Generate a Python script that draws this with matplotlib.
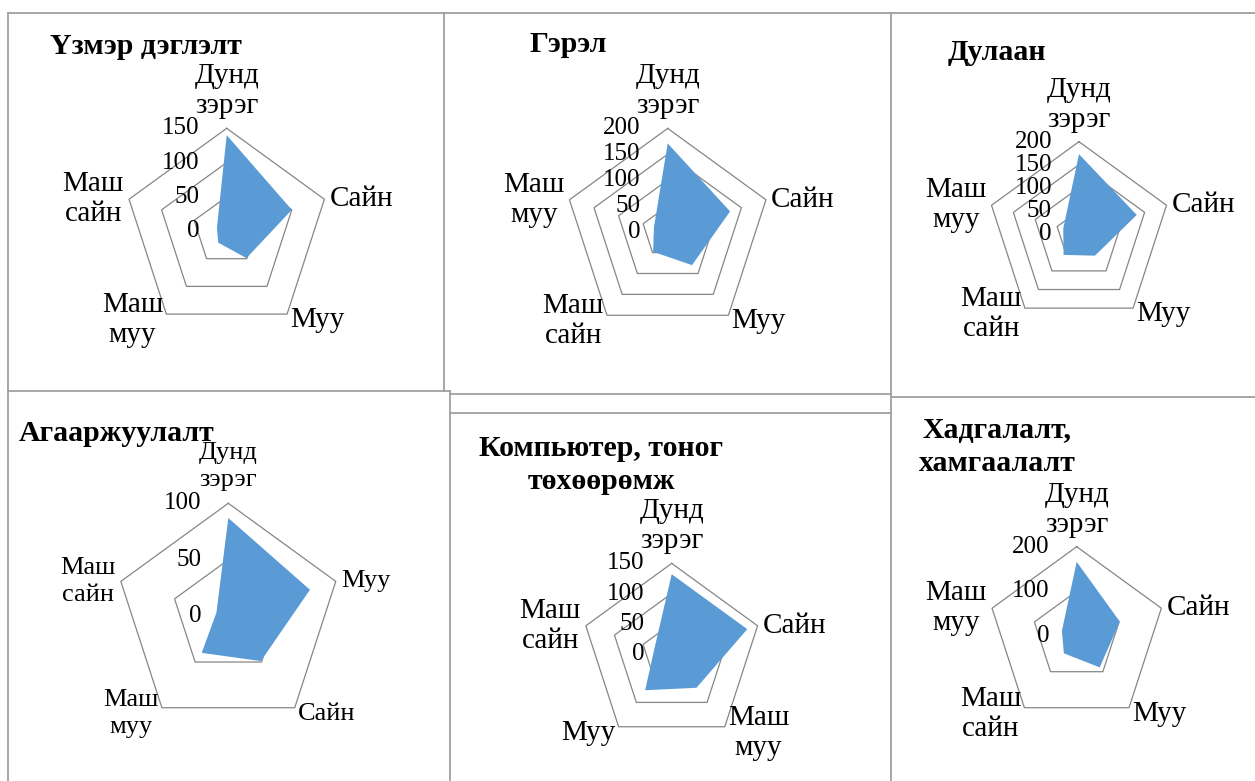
import numpy as np
import matplotlib
matplotlib.use('Agg')
import matplotlib.pyplot as plt
from matplotlib.lines import Line2D
from matplotlib.transforms import offset_copy

plt.rcParams['font.family'] = ['Liberation Serif', 'DejaVu Serif']

# ---- data ----
titles = ['Үзмэр дэглэлт', 'Гэрэл', 'Дулаан', 'Агааржуулалт',
          'Компьютер, тоног\nтөхөөрөмж', 'Хадгалалт,\nхамгаалалт']

cats1 = ['Дунд\nзэрэг', 'Сайн', 'Муу', 'Маш\nмуу', 'Маш\nсайн']
vals1 = [140, 100, 49, 21, 15]
cats2 = ['Дунд\nзэрэг', 'Сайн', 'Муу', 'Маш\nсайн', 'Маш\nмуу']
vals2 = [171, 127, 80, 48, 28]
cats3 = ['Дунд\nзэрэг', 'Сайн', 'Муу', 'Маш\nсайн', 'Маш\nмуу']
vals3 = [173, 132, 59, 57, 36]
cats4 = ['Дунд\nзэрэг', 'Муу', 'Сайн', 'Маш\nмуу', 'Маш\nсайн']
vals4 = [87, 76, 49, 40, 11]
cats5 = ['Дунд\nзэрэг', 'Сайн', 'Маш\nмуу', 'Муу', 'Маш\nсайн']
vals5 = [132, 132, 70, 75, 30]
cats6 = ['Дунд\nзэрэг', 'Сайн', 'Муу', 'Маш\nсайн', 'Маш\nмуу']
vals6 = [166, 102, 88, 49, 35]

ticks1 = [0, 50, 100, 150]
ticks2 = [0, 50, 100, 150, 200]
ticks3 = [0, 50, 100, 150, 200]
ticks4 = [0, 50, 100]
ticks5 = [0, 50, 100, 150]
ticks6 = [0, 100, 200]

# ---- layout (pixels) ----
W, H = 1255, 781
# centre x, centre y, radius, label font size, label line spacing, title x, title y, title ha
layout = [
    (226.7, 231.0, 102.7, 21, 1.2, 50, 47, 'left'),
    (667.7, 231.7, 103.3, 21, 1.2, 530, 45, 'left'),
    (1079.0, 233.7, 92.0, 21, 1.2, 948, 53, 'left'),
    (228.3, 616.3, 113.0, 19, 1.32, 19, 433, 'left'),
    (671.7, 653.7, 90.3, 21, 1.2, 601, 465, 'center'),
    (1076.7, 635.7, 89.0, 21, 1.2, 997, 447, 'center'),
]

panels = [(cats1, vals1, ticks1), (cats2, vals2, ticks2), (cats3, vals3, ticks3),
          (cats4, vals4, ticks4), (cats5, vals5, ticks5), (cats6, vals6, ticks6)]

fig = plt.figure(figsize=(W / 100, H / 100), dpi=100)
fig.patch.set_facecolor('white')

# panel borders
border = '#a0a0a0'
segs = [
    ((8, 12.5), (1255, 12.5)),
    ((8, 12.5), (8, 781)),
    ((443.5, 12.5), (443.5, 391)),
    ((8, 391), (450, 391)),
    ((450, 391), (450, 781)),
    ((450, 394), (891, 394)),
    ((450, 413), (891, 413)),
    ((891, 12.5), (891, 781)),
    ((891, 396.7), (1255, 396.7)),
]
for (x0, y0), (x1, y1) in segs:
    fig.add_artist(Line2D([x0 / W, x1 / W], [1 - y0 / H, 1 - y1 / H],
                          transform=fig.transFigure, color=border, lw=1.3))

# label offsets in dots for each of the 5 directions
lab_pos = [
    (0, 37, 'center', 'center'),
    (5, 0, 'left', 'center'),
    (3, -6, 'left', 'center'),
    (-3, -6, 'right', 'center'),
    (-5, 0, 'right', 'center'),
]

for (cats, vals, ticks), (cx, cy, R, fs, ls, tx, ty, tha), title in zip(panels, layout, titles):
    ax = fig.add_axes([(cx - R) / W, 1 - (cy + R) / H, 2 * R / W, 2 * R / H],
                      projection='polar')
    ax.set_theta_offset(np.pi / 2)
    ax.set_theta_direction(-1)
    rmax = ticks[-1]
    ax.set_ylim(0, rmax)
    ax.set_axis_off()

    ang = np.linspace(0, 2 * np.pi, len(cats), endpoint=False)
    ang_c = np.append(ang, ang[0])

    for t in ticks[1:]:
        ax.plot(ang_c, [t] * len(ang_c), color='#868686', lw=0.9, clip_on=False, zorder=1)

    v = np.append(vals, vals[0])
    ax.fill(ang_c, v, color='#5b9bd5', lw=0, zorder=2, clip_on=False)

    for t in ticks:
        tr = offset_copy(ax.transData, fig=fig, x=-27, y=0, units='dots')
        ax.text(0, t, str(t), transform=tr, ha='right', va='center',
                fontsize=18, zorder=3)

    for i, c in enumerate(cats):
        dx, dy, ha, va = lab_pos[i]
        tr = offset_copy(ax.transData, fig=fig, x=dx, y=dy, units='dots')
        ax.text(ang[i], rmax, c, transform=tr, ha=ha, va=va, ma='center',
                fontsize=fs, linespacing=ls, zorder=3)

    fig.text(tx / W, 1 - ty / H, title, ha=tha, va='center', ma='center',
             fontsize=21.5, fontweight='bold', linespacing=1.26)

fig.savefig('out.png', dpi=100, facecolor='white')
